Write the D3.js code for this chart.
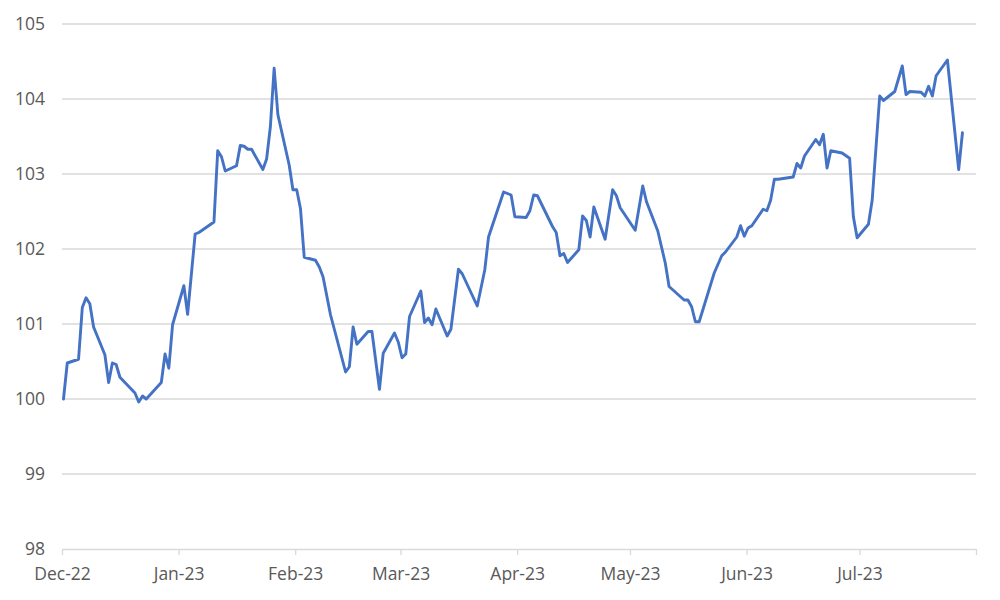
<!DOCTYPE html>
<html>
<head>
<meta charset="utf-8">
<script src="https://cdn.jsdelivr.net/npm/d3@7"></script>
<style>
  html, body { margin: 0; padding: 0; background: #fff; }
  svg { display: block; }
  .tick text { font-family: "Open Sans", "Liberation Sans", sans-serif; }
</style>
</head>
<body>
<svg id="chart" width="1000" height="600"></svg>
<script>
// ---- data ----
const dates = [
  "2022-12-01","2022-12-02","2022-12-05","2022-12-06","2022-12-07","2022-12-08","2022-12-09",
  "2022-12-12","2022-12-13","2022-12-14","2022-12-15","2022-12-16",
  "2022-12-20","2022-12-21","2022-12-22","2022-12-23",
  "2022-12-27","2022-12-28","2022-12-29","2022-12-30",
  "2023-01-02","2023-01-03","2023-01-05","2023-01-06",
  "2023-01-10","2023-01-11","2023-01-12","2023-01-13",
  "2023-01-16","2023-01-17","2023-01-18","2023-01-19","2023-01-20",
  "2023-01-23","2023-01-24","2023-01-25","2023-01-26","2023-01-27",
  "2023-01-30","2023-01-31","2023-02-01","2023-02-02","2023-02-03",
  "2023-02-06","2023-02-07","2023-02-08","2023-02-10",
  "2023-02-14","2023-02-15","2023-02-16","2023-02-17",
  "2023-02-20","2023-02-21","2023-02-23","2023-02-24",
  "2023-02-27","2023-02-28","2023-03-01","2023-03-02","2023-03-03",
  "2023-03-06","2023-03-07","2023-03-08","2023-03-09","2023-03-10",
  "2023-03-13","2023-03-14","2023-03-16","2023-03-17",
  "2023-03-21","2023-03-23","2023-03-24","2023-03-28","2023-03-30","2023-03-31",
  "2023-04-03","2023-04-04","2023-04-05","2023-04-06",
  "2023-04-10","2023-04-11","2023-04-12","2023-04-13","2023-04-14",
  "2023-04-17","2023-04-18","2023-04-19","2023-04-20","2023-04-21",
  "2023-04-24","2023-04-26","2023-04-27","2023-04-28",
  "2023-05-02","2023-05-04","2023-05-05","2023-05-08","2023-05-10","2023-05-11",
  "2023-05-15","2023-05-16","2023-05-17","2023-05-18","2023-05-19",
  "2023-05-23","2023-05-25","2023-05-26","2023-05-29","2023-05-30","2023-05-31",
  "2023-06-01","2023-06-02","2023-06-05","2023-06-06","2023-06-07","2023-06-08","2023-06-09",
  "2023-06-13","2023-06-14","2023-06-15","2023-06-16",
  "2023-06-19","2023-06-20","2023-06-21","2023-06-22","2023-06-23",
  "2023-06-26","2023-06-28","2023-06-29","2023-06-30",
  "2023-07-03","2023-07-04","2023-07-06","2023-07-07",
  "2023-07-10","2023-07-12","2023-07-13","2023-07-14",
  "2023-07-17","2023-07-18","2023-07-19","2023-07-20","2023-07-21",
  "2023-07-24","2023-07-27","2023-07-28"
];
const values = [
  100.00,100.48,100.53,101.22,101.35,101.27,100.96,
  100.59,100.22,100.48,100.46,100.29,
  100.08,99.96,100.04,100.00,
  100.22,100.60,100.41,100.99,
  101.51,101.13,102.20,102.22,
  102.36,103.31,103.23,103.04,
  103.11,103.38,103.37,103.33,103.33,
  103.06,103.20,103.63,104.41,103.79,
  103.12,102.79,102.79,102.54,101.89,
  101.85,101.76,101.63,101.12,
  100.36,100.43,100.96,100.73,
  100.90,100.90,100.13,100.61,
  100.88,100.76,100.55,100.60,101.10,
  101.44,101.02,101.08,100.99,101.20,
  100.84,100.93,101.73,101.67,
  101.24,101.72,102.16,102.76,102.72,102.43,
  102.42,102.51,102.72,102.71,
  102.30,102.22,101.91,101.94,101.82,
  101.99,102.44,102.38,102.16,102.56,
  102.13,102.79,102.71,102.55,
  102.25,102.84,102.63,102.24,101.81,101.50,
  101.32,101.32,101.23,101.03,101.03,
  101.68,101.91,101.96,102.16,102.31,102.17,
  102.28,102.31,102.53,102.51,102.65,102.93,102.93,
  102.96,103.14,103.08,103.24,
  103.46,103.39,103.53,103.08,103.31,
  103.28,103.21,102.43,102.15,
  102.33,102.65,104.04,103.98,
  104.10,104.44,104.06,104.10,
  104.09,104.04,104.17,104.04,104.31,
  104.52,103.06,103.55
];
const yTicks = [98, 99, 100, 101, 102, 103, 104, 105];
const monthLabels = ["Dec-22","Jan-23","Feb-23","Mar-23","Apr-23","May-23","Jun-23","Jul-23",""];

// ---- chart ----
const parse = d3.timeParse("%Y-%m-%d");
const data = dates.map((d, i) => ({ date: parse(d), value: values[i] }));

const svg = d3.select("#chart");
const plotLeft = 62, plotRight = 976, plotTop = 24, plotBottom = 549;

const x = d3.scaleTime()
  .domain([new Date(2022, 11, 1), new Date(2023, 7, 1)])
  .range([plotLeft, plotRight]);
const y = d3.scaleLinear().domain([98, 105]).range([plotBottom, plotTop]);

// gridlines
svg.append("g")
  .selectAll("line")
  .data(yTicks.filter(t => t !== 98))
  .join("line")
  .attr("x1", plotLeft).attr("x2", plotRight)
  .attr("y1", d => y(d)).attr("y2", d => y(d))
  .attr("stroke", "#d9d9d9").attr("stroke-width", 1.3);

// y axis labels
const yAxis = svg.append("g")
  .attr("transform", `translate(${plotLeft},0)`)
  .call(d3.axisLeft(y).tickValues(yTicks).tickSize(0).tickPadding(17).tickFormat(d3.format("d")));
yAxis.select(".domain").remove();
yAxis.selectAll("text").attr("fill", "#595959").style("font-size", "17.5px");

// x axis
const monthTicks = d3.timeMonth.range(new Date(2022, 11, 1), new Date(2023, 7, 2));
const xAxis = svg.append("g")
  .attr("transform", `translate(0,${plotBottom})`)
  .call(d3.axisBottom(x).tickValues(monthTicks).tickSize(6).tickPadding(13)
    .tickFormat((d, i) => monthLabels[i]));
xAxis.select(".domain").attr("stroke", "#d9d9d9").attr("stroke-width", 1.3)
  .attr("d", `M${plotLeft},0.5H${plotRight}`);
xAxis.selectAll(".tick line").attr("stroke", "#d9d9d9").attr("stroke-width", 1.3);
xAxis.selectAll("text").attr("fill", "#595959").style("font-size", "17.5px");

// line
svg.append("g")
  .attr("transform", "translate(1.5,0)")
  .append("path")
  .datum(data)
  .attr("fill", "none")
  .attr("stroke", "#4472C4")
  .attr("stroke-width", 2.9)
  .attr("stroke-linejoin", "round")
  .attr("stroke-linecap", "round")
  .attr("d", d3.line().x(d => x(d.date)).y(d => y(d.value)));
</script>
</body>
</html>
